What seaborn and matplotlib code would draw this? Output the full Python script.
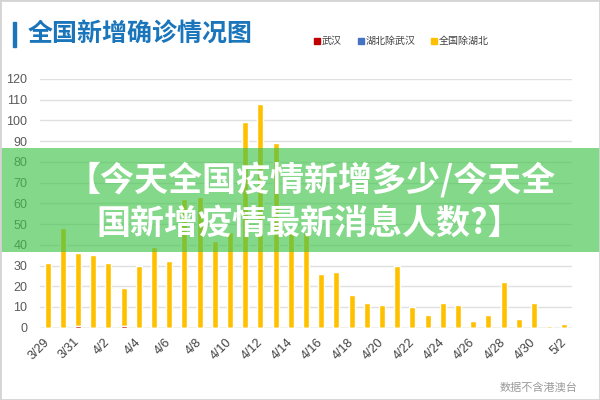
import numpy as np
import pandas as pd
import seaborn as sns
import matplotlib.pyplot as plt
from matplotlib.patches import Rectangle

# data
dates = ['3/29', '3/30', '3/31', '4/1', '4/2', '4/3', '4/4', '4/5', '4/6', '4/7',
         '4/8', '4/9', '4/10', '4/11', '4/12', '4/13', '4/14', '4/15', '4/16', '4/17',
         '4/18', '4/19', '4/20', '4/21', '4/22', '4/23', '4/24', '4/25', '4/26', '4/27',
         '4/28', '4/29', '4/30', '5/1', '5/2']
wuhan = [0, 0, 1, 0, 0, 1, 0, 0, 0, 0,
         0, 0, 0, 0, 0, 0, 0, 0, 0, 0,
         0, 0, 0, 0, 0, 0, 0, 0, 0, 0,
         0, 0, 0, 0, 0]
hubei_ex = [0, 0, 0, 0, 0, 0, 0, 0, 0, 0,
            0, 0, 0, 0, 0, 0, 0, 0, 0, 0,
            0, 0, 0, 0, 0, 0, 0, 0, 0, 0,
            0, 0, 0, 0, 0]
rest = [31, 48, 35, 35, 31, 18, 30, 39, 32, 62,
        63, 42, 46, 99, 108, 89, 46, 46, 26, 27,
        16, 12, 11, 30, 10, 6, 12, 11, 3, 6,
        22, 4, 12, 1, 2]
series = ['武汉', '湖北除武汉', '全国除湖北']
colors = ['#c00000', '#4472c4', '#ffc000']
title = '全国新增确诊情况图'
overlay = ['【今天全国疫情新增多少/今天全', '国新增疫情最新消息人数?】']
note = '数据不含港澳台'

df = pd.DataFrame({'date': dates, 'wuhan': wuhan, 'hubei_ex': hubei_ex, 'rest': rest})
df['lvl1'] = df['wuhan']
df['lvl2'] = df['lvl1'] + df['hubei_ex']
df['lvl3'] = df['lvl2'] + df['rest']

sns.set_theme(style='whitegrid')
plt.rcParams['font.family'] = ['Noto Sans CJK SC', 'DejaVu Sans']

fig, ax = plt.subplots(figsize=(6, 4), dpi=100)
ax.set_position([0.0667, 0.1808, 0.8867, 0.6218])

# stacked look: draw cumulative totals from top layer down
for col, c in zip(['lvl3', 'lvl2', 'lvl1'], colors[::-1]):
    sns.barplot(data=df, x='date', y=col, color=c, width=0.4, ax=ax,
                saturation=1, zorder=3)

ax.set_ylim(0, 120)
ax.set_xlim(-0.5, len(dates) - 0.5)
ax.set_yticks(range(0, 121, 10))
ax.set_xticks(range(0, len(dates), 2))
ax.set_xticklabels(dates[::2], rotation=45, ha='right', va='center',
                   rotation_mode='anchor', fontfamily='Liberation Sans',
                   fontsize=9, color='#404040')
for t in ax.get_yticklabels():
    t.set_fontfamily('Liberation Sans')
ax.tick_params(axis='y', length=0, pad=9, labelsize=9, labelcolor='#595959')
ax.tick_params(axis='x', length=0, pad=9)
ax.set_xlabel('')
ax.set_ylabel('')
ax.grid(axis='x', visible=False)
ax.grid(axis='y', color='#e0e0e0', linewidth=1)
for s in ax.spines.values():
    s.set_visible(False)
ax.axhline(0, color='#d0d0d0', linewidth=1, zorder=2)

# title
fig.add_artist(Rectangle((13 / 600, 1 - 47 / 400), 3 / 600, 25 / 400,
                         transform=fig.transFigure, color='#1a75bb'))
fig.text(28 / 600, 1 - 35 / 400, title, fontsize=18, fontweight='bold',
         color='#1a75bb', va='center', ha='left')

# legend
for lx, name, c in zip([314, 358, 431], series, colors):
    fig.add_artist(Rectangle((lx / 600, 1 - 44 / 400), 6 / 600, 6 / 400,
                             transform=fig.transFigure, color=c))
    fig.text((lx + 8) / 600, 1 - 41 / 400, name, fontsize=7.2,
             color='#404040', va='center', ha='left')

# footer
fig.text(577 / 600, 1 - 387 / 400, note, fontsize=8, color='#9a9a9a',
         ha='right', va='center')

# green banner over the chart
fig.add_artist(Rectangle((0, 1 - 252 / 400), 1, 104 / 400, transform=fig.transFigure,
                         color='#42c44b', alpha=0.65, zorder=10, lw=0))
fig.text(311 / 600, 1 - 180 / 400, overlay[0], fontsize=24.5, fontweight='bold',
         color='white', ha='center', va='center', zorder=11)
fig.text(309 / 600, 1 - 223 / 400, overlay[1], fontsize=24.5, fontweight='bold',
         color='white', ha='center', va='center', zorder=11)

# frame
fig.add_artist(Rectangle((0, 0), 1, 1, transform=fig.transFigure, fill=False,
                         edgecolor='#d4d4d4', lw=2, zorder=12))

plt.savefig('out.png', dpi=100)
